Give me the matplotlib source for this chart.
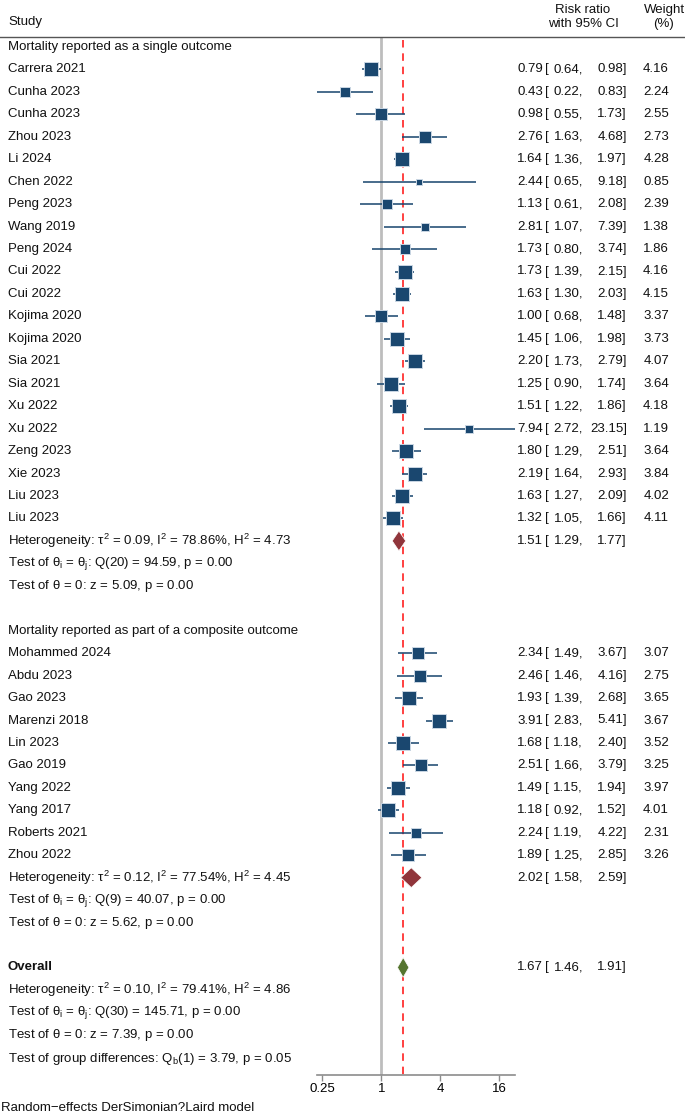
import matplotlib
matplotlib.use("Agg")
import matplotlib.pyplot as plt
from matplotlib.transforms import blended_transform_factory
from matplotlib.patches import Polygon
from matplotlib.lines import Line2D
import numpy as np

plt.rcParams['font.family'] = ['Liberation Sans', 'DejaVu Sans']
plt.rcParams['mathtext.fontset'] = 'custom'
plt.rcParams['mathtext.rm'] = 'Liberation Sans'
plt.rcParams['mathtext.it'] = 'Liberation Sans:italic'
plt.rcParams['mathtext.bf'] = 'Liberation Sans:bold'

# ---------------- data ----------------
g1_names = ["Carrera 2021", "Cunha 2023", "Cunha 2023", "Zhou 2023", "Li 2024", "Chen 2022",
            "Peng 2023", "Wang 2019", "Peng 2024", "Cui 2022", "Cui 2022", "Kojima 2020",
            "Kojima 2020", "Sia 2021", "Sia 2021", "Xu 2022", "Xu 2022", "Zeng 2023",
            "Xie 2023", "Liu 2023", "Liu 2023"]
g1_rr = [0.79, 0.43, 0.98, 2.76, 1.64, 2.44, 1.13, 2.81, 1.73, 1.73, 1.63, 1.00, 1.45,
         2.20, 1.25, 1.51, 7.94, 1.80, 2.19, 1.63, 1.32]
g1_lo = [0.64, 0.22, 0.55, 1.63, 1.36, 0.65, 0.61, 1.07, 0.80, 1.39, 1.30, 0.68, 1.06,
         1.73, 0.90, 1.22, 2.72, 1.29, 1.64, 1.27, 1.05]
g1_hi = [0.98, 0.83, 1.73, 4.68, 1.97, 9.18, 2.08, 7.39, 3.74, 2.15, 2.03, 1.48, 1.98,
         2.79, 1.74, 1.86, 23.15, 2.51, 2.93, 2.09, 1.66]
g1_w = [4.16, 2.24, 2.55, 2.73, 4.28, 0.85, 2.39, 1.38, 1.86, 4.16, 4.15, 3.37, 3.73,
        4.07, 3.64, 4.18, 1.19, 3.64, 3.84, 4.02, 4.11]
g1_pool = (1.51, 1.29, 1.77)
g1_label = "Mortality reported as a single outcome"
g1_stats = [r"Heterogeneity: $\mathregular{\tau^2}$ = 0.09, I$^{\mathregular{2}}$ = 78.86%, H$^{\mathregular{2}}$ = 4.73",
            r"Test of $\mathregular{\theta_i}$ = $\mathregular{\theta_j}$: Q(20) = 94.59, p = 0.00",
            r"Test of $\mathregular{\theta}$ = 0: z = 5.09, p = 0.00"]

g2_names = ["Mohammed 2024", "Abdu 2023", "Gao 2023", "Marenzi 2018", "Lin 2023", "Gao 2019",
            "Yang 2022", "Yang 2017", "Roberts 2021", "Zhou 2022"]
g2_rr = [2.34, 2.46, 1.93, 3.91, 1.68, 2.51, 1.49, 1.18, 2.24, 1.89]
g2_lo = [1.49, 1.46, 1.39, 2.83, 1.18, 1.66, 1.15, 0.92, 1.19, 1.25]
g2_hi = [3.67, 4.16, 2.68, 5.41, 2.40, 3.79, 1.94, 1.52, 4.22, 2.85]
g2_w = [3.07, 2.75, 3.65, 3.67, 3.52, 3.25, 3.97, 4.01, 2.31, 3.26]
g2_pool = (2.02, 1.58, 2.59)
g2_label = "Mortality reported as part of a composite outcome"
g2_stats = [r"Heterogeneity: $\mathregular{\tau^2}$ = 0.12, I$^{\mathregular{2}}$ = 77.54%, H$^{\mathregular{2}}$ = 4.45",
            r"Test of $\mathregular{\theta_i}$ = $\mathregular{\theta_j}$: Q(9) = 40.07, p = 0.00",
            r"Test of $\mathregular{\theta}$ = 0: z = 5.62, p = 0.00"]

overall = (1.67, 1.46, 1.91)
overall_stats = [r"Heterogeneity: $\mathregular{\tau^2}$ = 0.10, I$^{\mathregular{2}}$ = 79.41%, H$^{\mathregular{2}}$ = 4.86",
                 r"Test of $\mathregular{\theta_i}$ = $\mathregular{\theta_j}$: Q(30) = 145.71, p = 0.00",
                 r"Test of $\mathregular{\theta}$ = 0: z = 7.39, p = 0.00"]
group_diff = r"Test of group differences: Q$_{\mathregular{b}}$(1) = 3.79, p = 0.05"

xticks = [0.25, 1, 4, 16]
xticklabels = ["0.25", "1", "4", "16"]
footnote = "Random\u2212effects DerSimonian?Laird model"

# ---------------- layout ----------------
W, H = 685, 1114
fig = plt.figure(figsize=(W / 100, H / 100), dpi=100)
ax_left, ax_right, ax_top, ax_bot = 317, 515, 37, 1075
ax = fig.add_axes([ax_left / W, (H - ax_bot) / H, (ax_right - ax_left) / W, (ax_bot - ax_top) / H])
row0_px, row_h = 47, 22.45
ax.set_xscale('log', base=2)
all_lo = g1_lo + g2_lo
all_hi = g1_hi + g2_hi
ax.set_xlim(min(all_lo), max(all_hi))
ax.set_ylim((ax_bot - row0_px) / row_h, (ax_top - row0_px) / row_h)

for s in ['top', 'right', 'left']:
    ax.spines[s].set_visible(False)
ax.spines['bottom'].set_color('#8c8c8c')
ax.spines['bottom'].set_linewidth(1.2)
ax.set_yticks([])
ax.set_xticks(xticks)
ax.set_xticklabels(xticklabels)
ax.xaxis.set_minor_locator(matplotlib.ticker.NullLocator())
ax.tick_params(axis='x', length=4, width=1, color='#8c8c8c', labelsize=9.5, pad=2)

trans = blended_transform_factory(fig.transFigure, ax.transData)
FS = 9.5
TXT = '#111111'
NAVY = '#1a476f'

def lt(xpx, y, s, **kw):
    kw.setdefault('fontsize', FS)
    kw.setdefault('color', TXT)
    ax.text(xpx / W, y, s, transform=trans, va='center', clip_on=False, **kw)

def ci_text(y, est, lo, hi, w=None):
    lt(543, y, f"{est:.2f}", ha='right')
    lt(545, y, "[", ha='left')
    lt(583, y, f"{lo:.2f},", ha='right')
    lt(627, y, f"{hi:.2f}]", ha='right')
    if w is not None:
        lt(669, y, f"{w:.2f}", ha='right')

def diamond(y, est, lo, hi, color):
    hh = 0.44
    poly = Polygon([[lo, y], [est, y - hh], [hi, y], [est, y + hh]], closed=True,
                   facecolor=color, edgecolor='white', lw=0.5, zorder=4)
    ax.add_patch(poly)

# reference lines
ax.axvline(1, color='#bdbdbd', lw=2, zorder=0)
ax.vlines(overall[0], -0.3, ax.get_ylim()[0], color='#ff2020', lw=1.2,
          linestyles=(0, (4.5, 3.5)), zorder=1)

row = 0
def draw_group(label, names, rr, lo, hi, w, pool, stats, color):
    global row
    lt(8, row, label)
    row += 1
    for n, e, l, h, ww in zip(names, rr, lo, hi, w):
        ax.plot([l, h], [row, row], color=NAVY, alpha=0.8, lw=1.4, zorder=2, solid_capstyle='butt')
        ax.plot([e], [row], marker='s', ms=5.08 * np.sqrt(ww), color=NAVY,
                mec='#c9d6e3', mew=0.7, zorder=3)
        lt(8, row, n)
        ci_text(row, e, l, h, ww)
        row += 1
    diamond(row, pool[0], pool[1], pool[2], color)
    ci_text(row, *pool)
    for s in stats:
        lt(8, row, s)
        row += 1

draw_group(g1_label, g1_names, g1_rr, g1_lo, g1_hi, g1_w, g1_pool, g1_stats, '#90353b')
row += 1
draw_group(g2_label, g2_names, g2_rr, g2_lo, g2_hi, g2_w, g2_pool, g2_stats, '#90353b')
row += 1
lt(8, row, "Overall", fontweight='bold')
diamond(row, *overall, '#55752f')
ci_text(row, *overall)
row += 1
for s in overall_stats:
    lt(8, row, s)
    row += 1
lt(8, row + 0.1, group_diff)

# header
fig.text(8 / W, 1 - 22 / H, "Study", fontsize=FS, color=TXT, va='center')
fig.text(583 / W, 1 - 10 / H, "Risk ratio", fontsize=FS, color=TXT, va='center', ha='center')
fig.text(583 / W, 1 - 24 / H, "with 95% CI", fontsize=FS, color=TXT, va='center', ha='center')
fig.text(664 / W, 1 - 10 / H, "Weight", fontsize=FS, color=TXT, va='center', ha='center')
fig.text(664 / W, 1 - 24 / H, "(%)", fontsize=FS, color=TXT, va='center', ha='center')
fig.add_artist(Line2D([0, 1], [1 - 37 / H, 1 - 37 / H], transform=fig.transFigure,
                      color='#555555', lw=1))
fig.text(1 / W, 1 - 1108 / H, footnote, fontsize=FS, color=TXT, va='center')

fig.savefig("out.png", dpi=100, facecolor='white')
